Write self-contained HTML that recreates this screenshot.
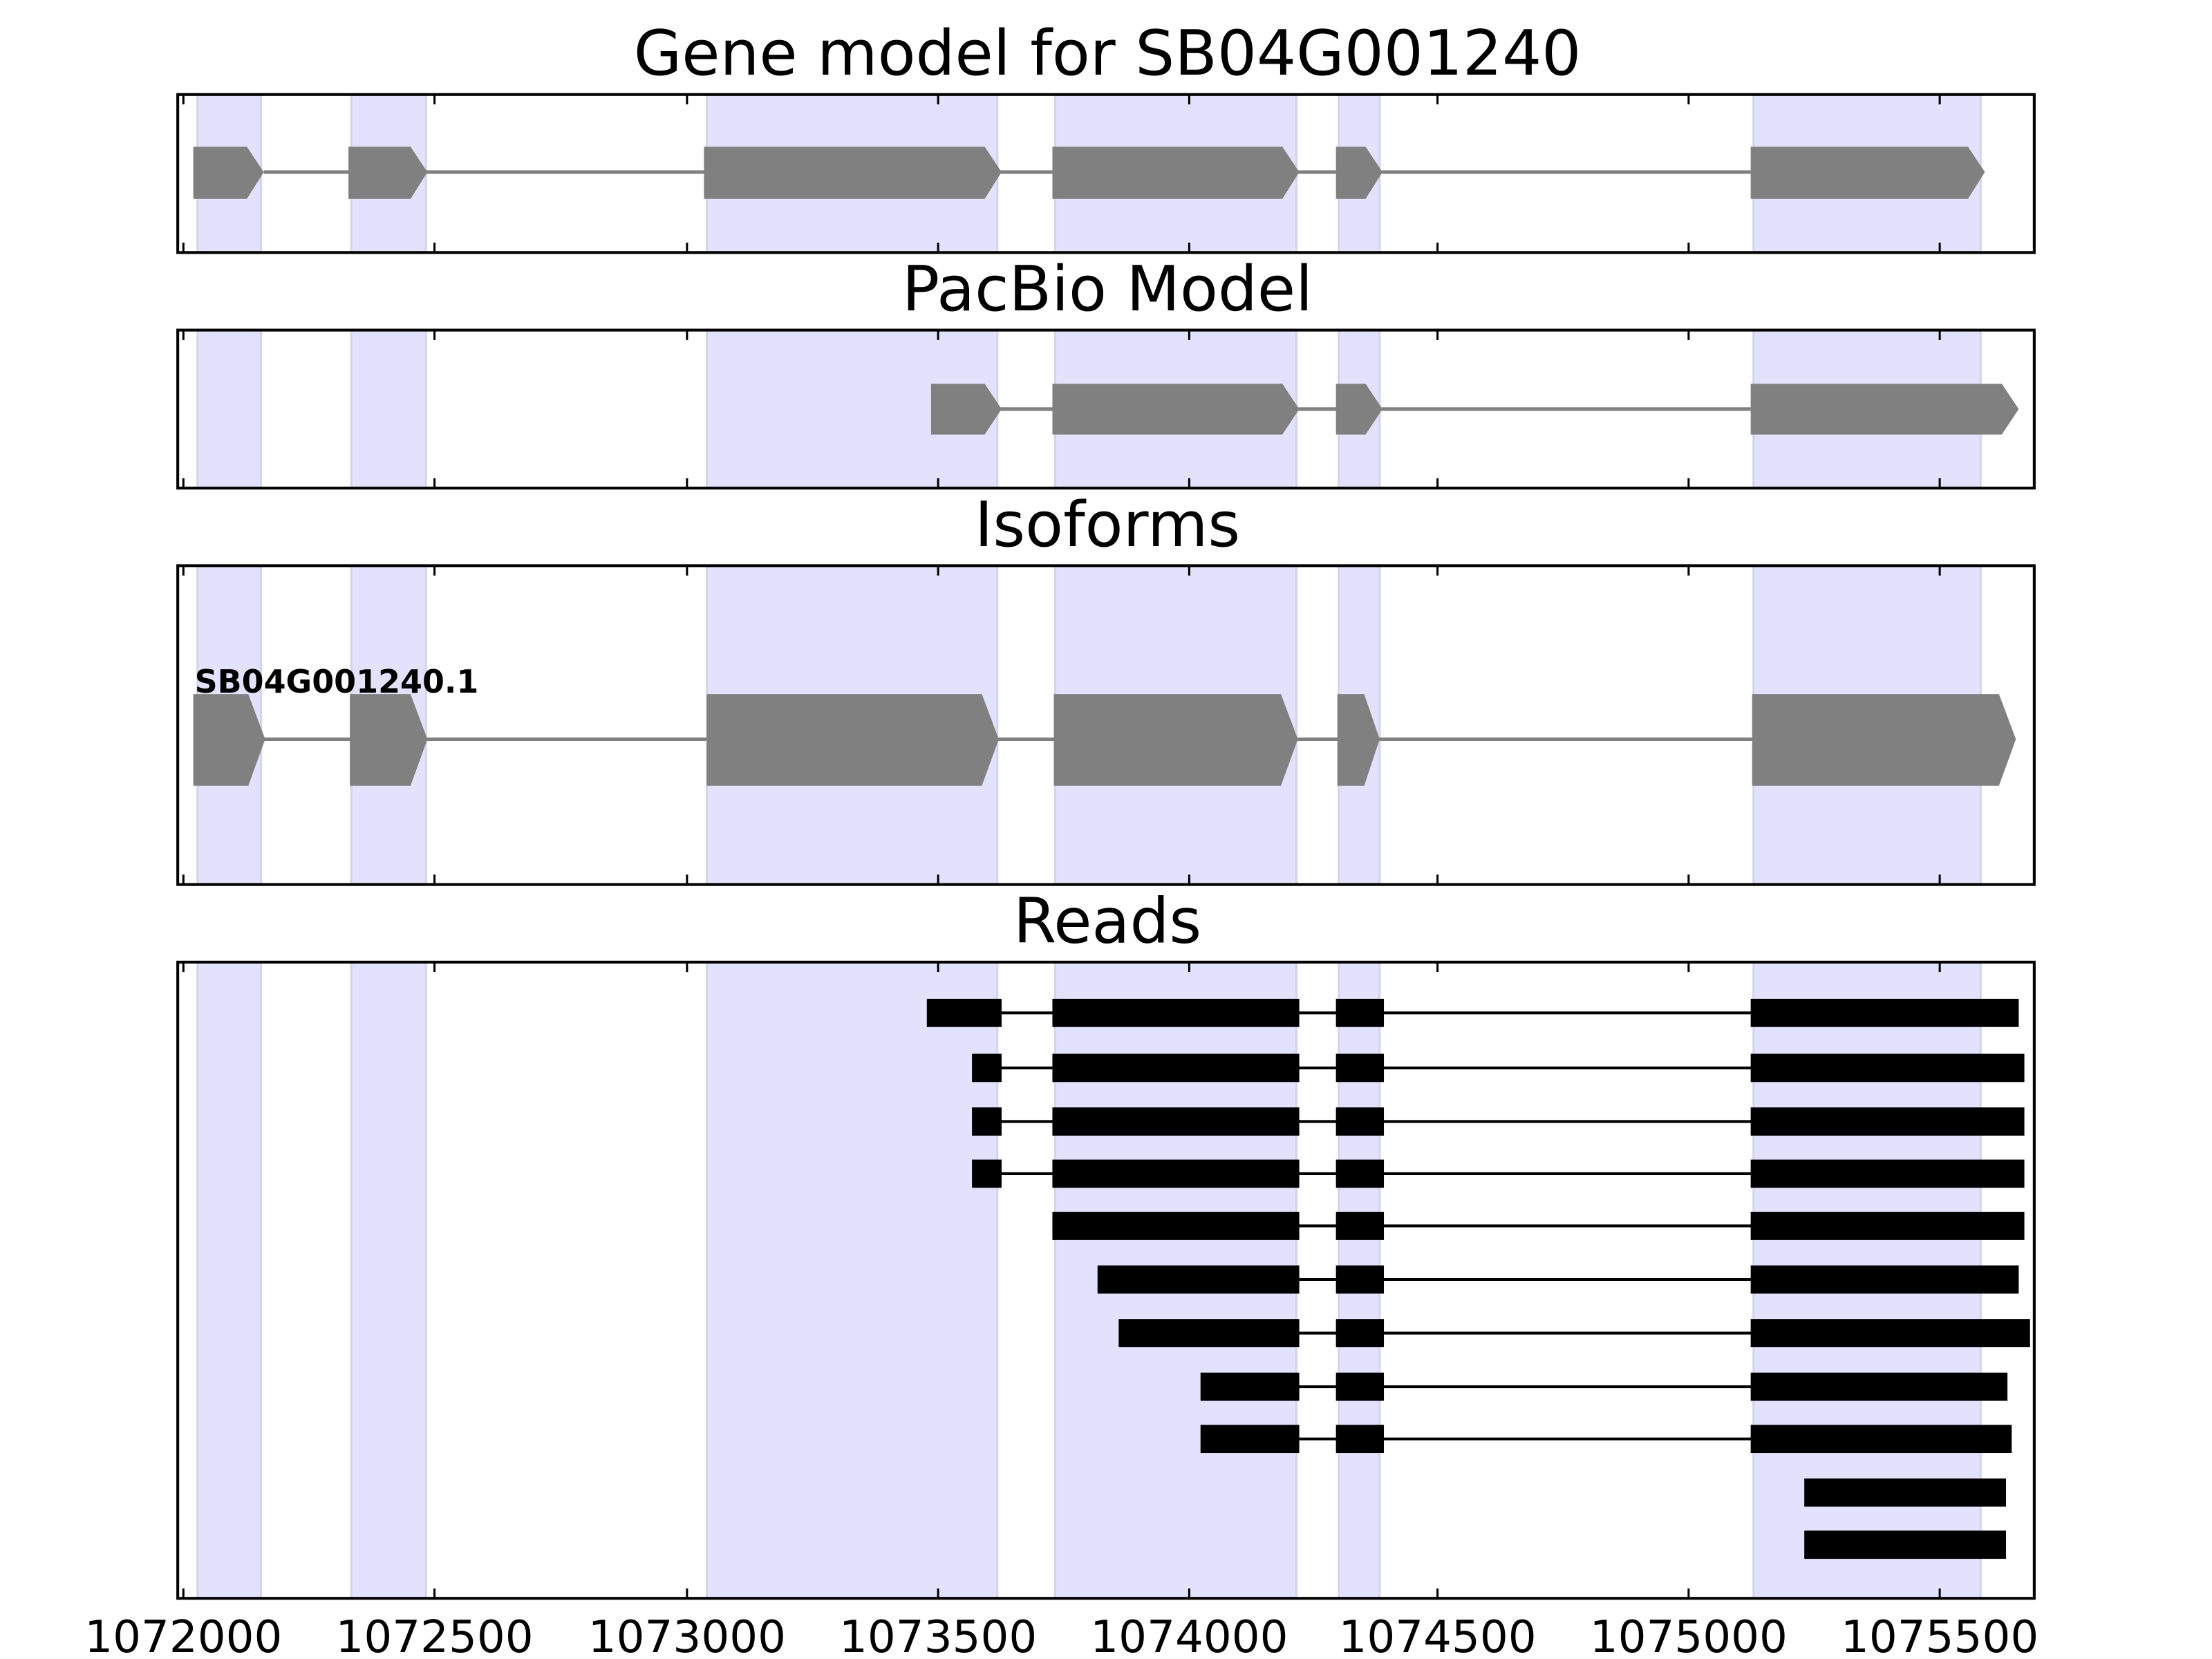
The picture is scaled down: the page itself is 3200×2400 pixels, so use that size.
<!DOCTYPE html>
<html><head><style>html,body{margin:0;padding:0;background:#fff}svg{display:block}</style></head>
<body>
<svg xmlns="http://www.w3.org/2000/svg" width="3200" height="2400" viewBox="0 0 1568 1176" preserveAspectRatio="none" font-family="'DejaVu Sans','Liberation Sans',sans-serif">
<rect width="1568" height="1176" fill="#fff"/>
<defs>
<g id="shade">
<rect x="140" width="45" height="1200" fill="#e2e2fc" stroke="#d4d4ec" stroke-width="1.5"/>
<rect x="249" width="53" height="1200" fill="#e2e2fc" stroke="#d4d4ec" stroke-width="1.5"/>
<rect x="501" width="206" height="1200" fill="#e2e2fc" stroke="#d4d4ec" stroke-width="1.5"/>
<rect x="748" width="171" height="1200" fill="#e2e2fc" stroke="#d4d4ec" stroke-width="1.5"/>
<rect x="949" width="29" height="1200" fill="#e2e2fc" stroke="#d4d4ec" stroke-width="1.5"/>
<rect x="1243" width="161" height="1200" fill="#e2e2fc" stroke="#d4d4ec" stroke-width="1.5"/>
</g>
<clipPath id="c1"><rect x="126" y="67" width="1316" height="112"/></clipPath>
<clipPath id="c2"><rect x="126" y="234" width="1316" height="112"/></clipPath>
<clipPath id="c3"><rect x="126" y="401" width="1316" height="226"/></clipPath>
<clipPath id="c4"><rect x="126" y="682" width="1316" height="451"/></clipPath>
</defs>
<g font-size="44" text-anchor="middle">
<text x="785" y="53">Gene model for SB04G001240</text>
<text x="785" y="220">PacBio Model</text>
<text x="785" y="387">Isoforms</text>
<text x="785" y="668">Reads</text>
</g>
<g clip-path="url(#c1)"><use href="#shade" y="0"/></g>
<g clip-path="url(#c2)"><use href="#shade" y="0"/></g>
<g clip-path="url(#c3)"><use href="#shade" y="0"/></g>
<g clip-path="url(#c4)"><use href="#shade" y="0"/></g>
<g fill="#808080">
<line x1="187" y1="122" x2="1241" y2="122" stroke="#808080" stroke-width="2.5"/>
<polygon points="137,104 175,104 187,122 175,141 137,141"/>
<polygon points="247,104 291,104 303,122 291,141 247,141"/>
<polygon points="499,104 698,104 710,122 698,141 499,141"/>
<polygon points="746,104 909,104 921,122 909,141 746,141"/>
<polygon points="947,104 968,104 980,122 968,141 947,141"/>
<polygon points="1241,104 1395,104 1407,122 1395,141 1241,141"/>
</g>
<g fill="#808080">
<line x1="700" y1="290" x2="1241" y2="290" stroke="#808080" stroke-width="2.5"/>
<polygon points="660,272 698,272 710,290 698,308 660,308"/>
<polygon points="746,272 909,272 921,290 909,308 746,308"/>
<polygon points="947,272 968,272 980,290 968,308 947,308"/>
<polygon points="1241,272 1419,272 1431,290 1419,308 1241,308"/>
</g>
<g fill="#808080">
<line x1="187" y1="524" x2="1242" y2="524" stroke="#808080" stroke-width="2.5"/>
<polygon points="137,492 176,492 188,524 176,557 137,557"/>
<polygon points="248,492 291,492 303,524 291,557 248,557"/>
<polygon points="501,492 696,492 708,524 696,557 501,557"/>
<polygon points="747,492 908,492 920,524 908,557 747,557"/>
<polygon points="948,492 967,492 978,524 967,557 948,557"/>
<polygon points="1242,492 1417,492 1429,524 1417,557 1242,557"/>
</g>
<text x="138" y="491" font-size="22.5" font-weight="bold">SB04G001240.1</text>
<g fill="#000" stroke="#000" stroke-width="2">
<line x1="658" y1="718" x2="1242" y2="718"/>
<rect x="658" y="709" width="51" height="18"/><rect x="747" y="709" width="173" height="18"/><rect x="948" y="709" width="32" height="18"/><rect x="1242" y="709" width="188" height="18"/>
<line x1="690" y1="757" x2="1242" y2="757"/>
<rect x="690" y="748" width="19" height="18"/><rect x="747" y="748" width="173" height="18"/><rect x="948" y="748" width="32" height="18"/><rect x="1242" y="748" width="192" height="18"/>
<line x1="690" y1="795" x2="1242" y2="795"/>
<rect x="690" y="786" width="19" height="18"/><rect x="747" y="786" width="173" height="18"/><rect x="948" y="786" width="32" height="18"/><rect x="1242" y="786" width="192" height="18"/>
<line x1="690" y1="832" x2="1242" y2="832"/>
<rect x="690" y="823" width="19" height="18"/><rect x="747" y="823" width="173" height="18"/><rect x="948" y="823" width="32" height="18"/><rect x="1242" y="823" width="192" height="18"/>
<line x1="747" y1="869" x2="1242" y2="869"/>
<rect x="747" y="860" width="173" height="18"/><rect x="948" y="860" width="32" height="18"/><rect x="1242" y="860" width="192" height="18"/>
<line x1="779" y1="907" x2="1242" y2="907"/>
<rect x="779" y="898" width="141" height="18"/><rect x="948" y="898" width="32" height="18"/><rect x="1242" y="898" width="188" height="18"/>
<line x1="794" y1="945" x2="1242" y2="945"/>
<rect x="794" y="936" width="126" height="18"/><rect x="948" y="936" width="32" height="18"/><rect x="1242" y="936" width="196" height="18"/>
<line x1="852" y1="983" x2="1242" y2="983"/>
<rect x="852" y="974" width="68" height="18"/><rect x="948" y="974" width="32" height="18"/><rect x="1242" y="974" width="180" height="18"/>
<line x1="852" y1="1020" x2="1242" y2="1020"/>
<rect x="852" y="1011" width="68" height="18"/><rect x="948" y="1011" width="32" height="18"/><rect x="1242" y="1011" width="183" height="18"/>
<rect x="1280" y="1049" width="141" height="18"/>
<rect x="1280" y="1086" width="141" height="18"/>
</g>
<g fill="none" stroke="#000" stroke-width="2">
<rect x="126" y="67" width="1316" height="112"/>
<rect x="126" y="234" width="1316" height="112"/>
<rect x="126" y="401" width="1316" height="226"/>
<rect x="126" y="682" width="1316" height="451"/>
</g>
<g stroke="#000" stroke-width="1.5">
<path d="M130 67v7M308 67v7M487 67v7M665 67v7M843 67v7M1019 67v7M1197 67v7M1375 67v7 M130 179v-7M308 179v-7M487 179v-7M665 179v-7M843 179v-7M1019 179v-7M1197 179v-7M1375 179v-7"/>
<path d="M130 234v7M308 234v7M487 234v7M665 234v7M843 234v7M1019 234v7M1197 234v7M1375 234v7 M130 346v-7M308 346v-7M487 346v-7M665 346v-7M843 346v-7M1019 346v-7M1197 346v-7M1375 346v-7"/>
<path d="M130 401v7M308 401v7M487 401v7M665 401v7M843 401v7M1019 401v7M1197 401v7M1375 401v7 M130 627v-7M308 627v-7M487 627v-7M665 627v-7M843 627v-7M1019 627v-7M1197 627v-7M1375 627v-7"/>
<path d="M130 682v7M308 682v7M487 682v7M665 682v7M843 682v7M1019 682v7M1197 682v7M1375 682v7 M130 1133v-7M308 1133v-7M487 1133v-7M665 1133v-7M843 1133v-7M1019 1133v-7M1197 1133v-7M1375 1133v-7"/>
</g>
<g font-size="31.5" text-anchor="middle">
<text x="130" y="1171">1072000</text>
<text x="308" y="1171">1072500</text>
<text x="487" y="1171">1073000</text>
<text x="665" y="1171">1073500</text>
<text x="843" y="1171">1074000</text>
<text x="1019" y="1171">1074500</text>
<text x="1197" y="1171">1075000</text>
<text x="1375" y="1171">1075500</text>
</g>
</svg>
</body></html>
